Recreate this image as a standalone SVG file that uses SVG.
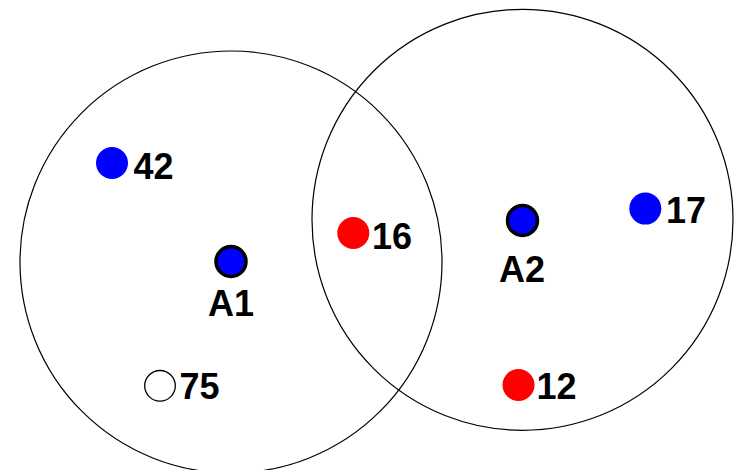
<svg xmlns="http://www.w3.org/2000/svg" width="740" height="470" viewBox="0 0 740 470">
  <style>
    .range { fill: none; stroke: #000; stroke-width: 1.2; }
    .dot { stroke: none; }
    .blue { fill: #0000ff; }
    .red { fill: #ff0000; }
    .empty { fill: #fff; stroke: #000; stroke-width: 1.3; }
    .anchor { fill: #0000ff; stroke: #000; stroke-width: 3.5; }
    .lbl { font-family: "Liberation Sans", Arial, sans-serif; font-weight: bold; font-size: 36px; fill: #000; }
  </style>
  <rect width="740" height="470" fill="#fff"/>

  <!-- coverage ranges of the two anchors -->
  <g id="connectors">
    <circle class="range" cx="231" cy="262" r="211"/>
    <circle class="range" cx="522.5" cy="219.8" r="210.5"/>
  </g>

  <g id="A1">
    <circle class="anchor" cx="231" cy="261.5" r="15"/>
    <text class="lbl" x="231" y="316" text-anchor="middle">A1</text>
  </g>
  <g id="A2">
    <circle class="anchor" cx="522.5" cy="220.5" r="15"/>
    <text class="lbl" x="522" y="281.5" text-anchor="middle">A2</text>
  </g>
  <g id="n42">
    <circle class="dot blue" cx="112" cy="163" r="16"/>
    <text class="lbl" x="133.5" y="178.5">42</text>
  </g>
  <g id="n16">
    <circle class="dot red" cx="353.3" cy="233" r="16"/>
    <text class="lbl" x="372" y="249">16</text>
  </g>
  <g id="n17">
    <circle class="dot blue" cx="645.3" cy="208.6" r="16"/>
    <text class="lbl" x="666" y="223">17</text>
  </g>
  <g id="n12">
    <circle class="dot red" cx="518.5" cy="385" r="16"/>
    <text class="lbl" x="536.5" y="399">12</text>
  </g>
  <g id="n75">
    <circle class="empty" cx="160" cy="385.8" r="15.3"/>
    <text class="lbl" x="179.5" y="399">75</text>
  </g>
</svg>
